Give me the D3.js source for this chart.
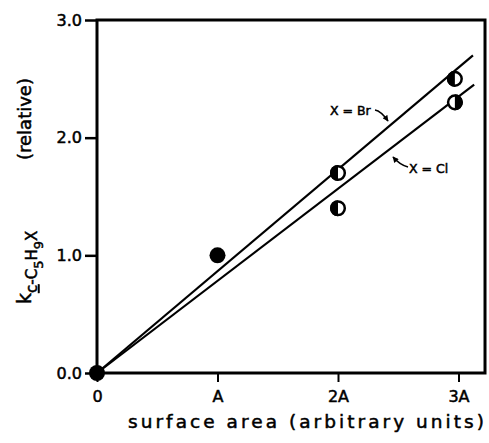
<!DOCTYPE html>
<html><head><meta charset="utf-8">
<script src="https://cdn.jsdelivr.net/npm/d3@7"></script>
<style>
html,body{margin:0;padding:0;background:#fff;}
svg text{font-family:"DejaVu Sans", sans-serif; fill:#000; stroke:#000; stroke-width:0.5px;}
</style></head>
<body>
<svg id="chart" width="489" height="443"></svg>
<script>
// ---- data ----
const xTickValues = [0, 1, 2, 3];
const xTickLabels = ["0", "A", "2A", "3A"];
const yTickValues = [0, 1, 2, 3];
const yTickLabels = ["0.0", "1.0", "2.0", "3.0"];
const solidPoints = [[0, 0.0], [1, 1.0]];
const brPoints = [[2, 1.7], [2.97, 2.5]];
const brHalf = ["left", "left"];
const clPoints = [[2, 1.4], [2.97, 2.3]];
const clHalf = ["left", "right"];
const brLine = [[0, 0], [3.12, 2.70]];
const clLine = [[0, 0], [3.13, 2.45]];
const xMax = 3.22;

const svg = d3.select("#chart");
const x = d3.scaleLinear().domain([0, 3]).range([97, 458.5]);
const y = d3.scaleLinear().domain([0, 3]).range([373, 20]);

// frame
svg.append("rect")
  .attr("x", x(0)).attr("y", y(3))
  .attr("width", x(xMax) - x(0)).attr("height", y(0) - y(3))
  .attr("fill", "none").attr("stroke", "#000").attr("stroke-width", 3);

// y axis
const yAxis = d3.axisLeft(y).tickValues(yTickValues)
  .tickFormat((d, i) => yTickLabels[i]).tickSize(12).tickPadding(3);
const gy = svg.append("g").attr("transform", `translate(${x(0)},0)`).call(yAxis);
gy.select(".domain").remove();
gy.selectAll(".tick line").attr("stroke", "#000").attr("stroke-width", 2.5);
gy.selectAll(".tick text").attr("font-size", 16).attr("font-family", "DejaVu Sans");

// x axis
const xAxis = d3.axisBottom(x).tickValues(xTickValues)
  .tickFormat((d, i) => xTickLabels[i]).tickSize(9).tickPadding(9);
const gx = svg.append("g").attr("transform", `translate(0,${y(0)})`).call(xAxis);
gx.select(".domain").remove();
gx.selectAll(".tick line").attr("stroke", "#000").attr("stroke-width", 2);
gx.selectAll(".tick text").attr("font-size", 16).attr("font-family", "DejaVu Sans");

// fit lines
const line = d3.line().x(d => x(d[0])).y(d => y(d[1]));
[brLine, clLine].forEach(l => {
  svg.append("path").attr("d", line(l)).attr("fill", "none")
    .attr("stroke", "#000").attr("stroke-width", 2.2);
});

// points
const r = 8;
svg.selectAll("circle.solid").data(solidPoints).enter().append("circle")
  .attr("class", "solid").attr("cx", d => x(d[0])).attr("cy", d => y(d[1]))
  .attr("r", r).attr("fill", "#000");

const arc = d3.arc().innerRadius(0).outerRadius(r);
function halfPoints(pts, sides) {
  pts.forEach((p, i) => {
    const g = svg.append("g").attr("transform", `translate(${x(p[0])},${y(p[1])})`);
    g.append("circle").attr("r", r - 1.2).attr("fill", "#fff").attr("stroke", "#000").attr("stroke-width", 2.5);
    const a = sides[i] === "left" ? {startAngle: Math.PI, endAngle: 2 * Math.PI}
                                  : {startAngle: 0, endAngle: Math.PI};
    g.append("path").attr("d", arc(a)).attr("fill", "#000");
  });
}
halfPoints(brPoints, brHalf);
halfPoints(clPoints, clHalf);

// annotations
svg.append("defs").append("marker").attr("id", "ah")
  .attr("viewBox", "0 0 10 10").attr("refX", 9).attr("refY", 5)
  .attr("markerUnits", "userSpaceOnUse")
  .attr("markerWidth", 7).attr("markerHeight", 6).attr("orient", "auto")
  .append("path").attr("d", "M0,0 L10,5 L0,10 z").attr("fill", "#000");

svg.append("text").attr("x", 330).attr("y", 115).attr("font-size", 12.5)
  .text("X = Br");
svg.append("path").attr("d", "M375,110 Q381,111 388,121")
  .attr("fill", "none").attr("stroke", "#000").attr("stroke-width", 1.6)
  .attr("marker-end", "url(#ah)");

svg.append("text").attr("x", 409).attr("y", 173).attr("font-size", 12.5)
  .text("X = Cl");
svg.append("path").attr("d", "M408,167 Q400,165 393,157")
  .attr("fill", "none").attr("stroke", "#000").attr("stroke-width", 1.6)
  .attr("marker-end", "url(#ah)");

// axis titles
svg.append("text").attr("x", 128).attr("y", 428).attr("font-size", 18.5)
  .attr("textLength", 356).attr("lengthAdjust", "spacing")
  .text("surface area  (arbitrary units)");

const yt = svg.append("text").attr("transform", "translate(31,304) rotate(-90)")
  .attr("font-size", 19);
yt.append("tspan").text("k");
yt.append("tspan").attr("dy", 6).attr("font-size", 15)
  .attr("text-decoration", "underline").text("c");
yt.append("tspan").attr("font-size", 15).text("-C");
yt.append("tspan").attr("dy", 6).attr("font-size", 13).text("5");
yt.append("tspan").attr("dy", -6).attr("font-size", 15).text("H");
yt.append("tspan").attr("dy", 6).attr("font-size", 13).text("9");
yt.append("tspan").attr("dy", -6).attr("font-size", 15).text("X");

svg.append("text").attr("transform", "translate(31,160) rotate(-90)")
  .attr("font-size", 18).text("(relative)");
</script>
</body></html>
